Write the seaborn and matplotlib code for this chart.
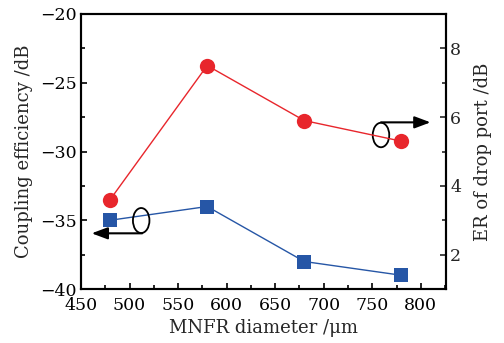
import matplotlib
matplotlib.use("Agg")
import matplotlib.pyplot as plt
import seaborn as sns
import pandas as pd
from matplotlib.patches import Ellipse
from matplotlib.ticker import MultipleLocator

diameter = [480, 580, 680, 780]
coupling = [-35.0, -34.0, -38.0, -39.0]
er_drop = [3.6, 7.5, 5.9, 5.3]

sns.set_theme(style="white")
plt.rcParams['font.family'] = ['DejaVu Serif']
plt.rcParams['mathtext.fontset'] = 'dejavuserif'

fig = plt.figure(figsize=(5.04, 3.43), dpi=100)
ax = fig.add_axes([0.1607, 0.1574, 0.7243, 0.8018])
ax2 = ax.twinx()

df = pd.DataFrame({"d": diameter, "c": coupling, "e": er_drop})
blue = "#2656a6"
red = "#e8262c"
sns.lineplot(data=df, x="d", y="c", ax=ax, color=blue, marker="s", markersize=9.5,
             markeredgewidth=0, linewidth=1.0)
sns.lineplot(data=df, x="d", y="e", ax=ax2, color=red, marker="o", markersize=11,
             markeredgewidth=0, linewidth=1.0)

ax.set_xlim(450, 826)
ax.set_ylim(-40, -20)
ax2.set_ylim(1, 9)
ax.xaxis.set_major_locator(MultipleLocator(50))
ax.xaxis.set_minor_locator(MultipleLocator(25))
ax.yaxis.set_major_locator(MultipleLocator(5))
ax.yaxis.set_minor_locator(MultipleLocator(2.5))
ax2.yaxis.set_major_locator(MultipleLocator(2))
ax2.yaxis.set_minor_locator(MultipleLocator(1))

fs_tick = 12.5
fs_lab = 13
ax.set_xlabel("MNFR diameter /μm", fontsize=fs_lab, labelpad=3)
ax.set_ylabel("Coupling efficiency /dB", fontsize=fs_lab, labelpad=5)
ax2.set_ylabel("ER of drop port /dB", fontsize=fs_lab, labelpad=9)
ax.set_yticklabels([f"−{abs(int(v))}" for v in ax.get_yticks()])

for a in (ax, ax2):
    for s in a.spines.values():
        s.set_linewidth(1.5)
        s.set_color("black")
ax.tick_params(axis="both", which="both", direction="in", labelsize=fs_tick, width=1.2, colors="black",
               left=True, bottom=True, right=False, top=False)
ax.tick_params(axis="y", pad=3)
ax.tick_params(axis="x", pad=6)
ax.tick_params(which="major", length=4)
ax.tick_params(which="minor", length=3)
ax2.tick_params(axis="y", which="both", direction="in", labelsize=fs_tick, width=1.2, right=True, pad=3)
ax2.tick_params(which="major", length=4)
ax2.tick_params(which="minor", length=3)
ax2.grid(False)
ax.grid(False)

# annotations: ellipse + arrow indicating axis
e1 = Ellipse((512, -35.02), width=17, height=1.82, fill=False, lw=1.3, ec="black", zorder=5)
ax.add_patch(e1)
ax.annotate("", xy=(461, -35.95), xytext=(513, -35.95),
            arrowprops=dict(arrowstyle="-|>,head_length=0.8,head_width=0.3", color="black", lw=1.5,
                            shrinkA=0, shrinkB=0))
e2 = Ellipse((759, -28.8), width=17, height=1.78, fill=False, lw=1.3, ec="black", zorder=5)
ax.add_patch(e2)
ax.annotate("", xy=(810, -27.88), xytext=(759, -27.88),
            arrowprops=dict(arrowstyle="-|>,head_length=0.8,head_width=0.3", color="black", lw=1.5,
                            shrinkA=0, shrinkB=0))

fig.savefig("out.png", dpi=100)
